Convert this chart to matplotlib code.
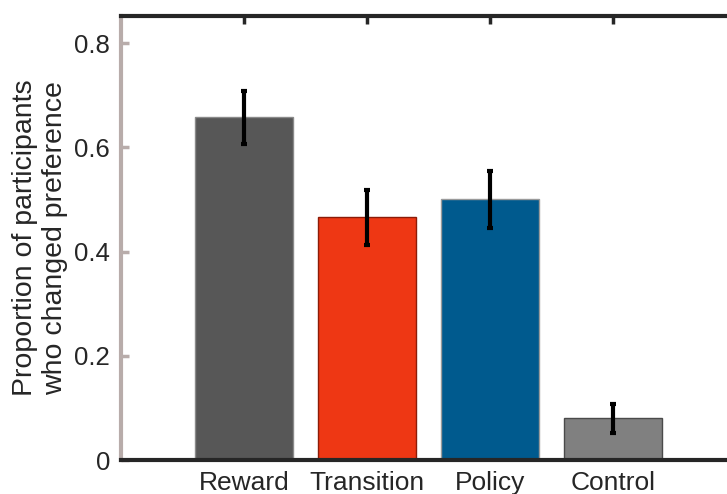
import matplotlib
matplotlib.use("Agg")
import matplotlib.pyplot as plt
import numpy as np

categories = ["Reward", "Transition", "Policy", "Control"]
proportions = [0.658, 0.466, 0.500, 0.080]
errors = [0.051, 0.053, 0.054, 0.028]
bar_colors = ["#575757", "#EE3714", "#005A8E", "#808080"]
edge_colors = ["#8a8a8a", "#8c1c08", "#9a9a9a", "#4a4a4a"]
yticks = [0, 0.2, 0.4, 0.6, 0.8]
ytick_labels = ["0", "0.2", "0.4", "0.6", "0.8"]

plt.rcParams["font.family"] = ["Liberation Sans", "DejaVu Sans"]

fig = plt.figure(figsize=(7.27, 4.94), dpi=100)
ax = fig.add_axes([121 / 727, 1 - 460 / 494, (736 - 121) / 727, (460 - 16) / 494])

x = np.arange(1, len(categories) + 1)
ax.bar(x, proportions, width=0.8, color=bar_colors, edgecolor=edge_colors,
       linewidth=1.0, zorder=2)
ax.errorbar(x, proportions, yerr=errors, fmt="none", ecolor="black",
            elinewidth=3, capsize=2.5, capthick=3, zorder=3)

ax.set_xlim(0, 5)
ax.set_ylim(0, 0.852)
ax.set_xticks(x)
ax.set_xticklabels(categories)
ax.set_yticks(yticks)
ax.set_yticklabels(ytick_labels)

ax.spines["right"].set_visible(False)
ax.spines["top"].set_color("#262626")
ax.spines["top"].set_linewidth(3)
ax.spines["bottom"].set_color("#262626")
ax.spines["bottom"].set_linewidth(3)
ax.spines["left"].set_color("#B8ACAA")
ax.spines["left"].set_linewidth(3)

ax.tick_params(axis="x", direction="in", top=True, bottom=False,
               labelbottom=True, length=6, width=2.5, color="#262626",
               labelsize=19, labelcolor="#262626", pad=8)
ax.tick_params(axis="y", direction="in", left=True, right=False,
               length=6, width=2.5, color="#B8ACAA",
               labelsize=18.5, labelcolor="#262626", pad=8)

ax.set_ylabel("Proportion of participants\nwho changed preference",
              fontsize=20.5, color="#262626", labelpad=4, linespacing=1.2)

fig.savefig("out.png", dpi=100)
